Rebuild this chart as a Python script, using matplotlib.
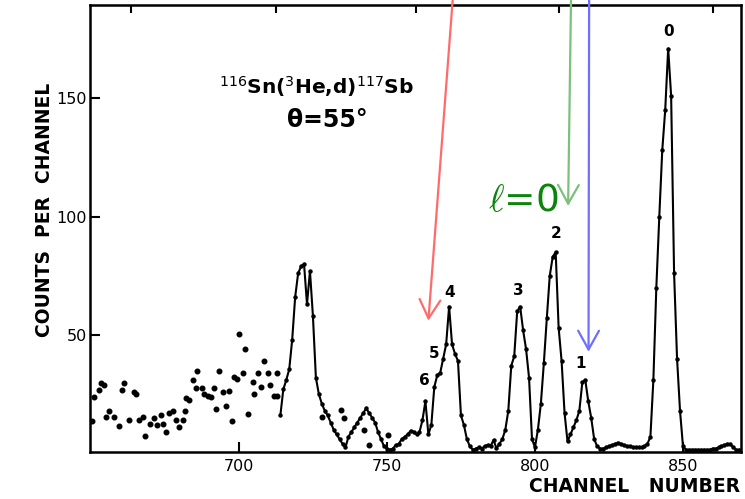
import numpy as np
import matplotlib.pyplot as plt

BOLD = ['DejaVu Sans']

# scattered background counts (no fit line)
bg_channel = [650.5, 651.1, 652.8, 653.4, 654.5, 655.0, 656.2, 657.9, 659.6, 660.5,
              661.3, 662.9, 664.6, 665.1, 666.3, 667.5, 668.3, 669.9, 671.4, 672.2,
              673.6, 674.2, 675.3, 676.5, 677.8, 678.7, 679.8, 681.0, 681.8, 682.1,
              683.2, 684.4, 685.5, 686.0, 687.7, 688.3, 689.4, 690.5, 691.6, 692.2,
              693.3, 694.5, 695.6, 696.7, 697.5, 698.4, 699.2, 700.1, 701.4, 702.2,
              703.1, 704.6, 705.2, 706.5, 707.4, 708.6, 709.7, 710.6, 711.9, 712.8,
              712.8, 728.2, 734.5, 735.6, 742.1, 744.0, 750.2]
bg_counts = [13.5, 23.9, 26.7, 29.6, 28.9, 15.2, 18.0, 15.5, 11.7, 26.7,
             29.8, 14.1, 26.0, 25.0, 14.1, 15.5, 7.3, 12.4, 14.8, 12.0,
             16.2, 12.4, 9.1, 17.2, 18.0, 14.1, 11.2, 14.1, 18.0, 23.2,
             22.5, 31.0, 27.5, 34.9, 27.5, 25.0, 24.2, 23.9, 27.5, 18.6,
             34.9, 26.0, 20.0, 26.4, 13.8, 32.4, 31.3, 50.4, 33.8, 44.2,
             16.5, 30.0, 25.0, 33.8, 28.1, 39.0, 33.8, 28.9, 24.2, 33.8,
             24.0, 15.5, 18.3, 14.8, 9.8, 3.5, 7.7]

# spectrum joined by line
ch = list(range(714, 870))
counts = [16, 27, 31, 35.5, 48, 66, 76, 79, 80, 63,        # 714-723
          77, 58, 32, 25, 21, 18, 16, 13, 10, 8,           # 724-733
          6, 4, 2.5, 7, 9, 11, 13, 15, 17, 19,             # 734-743
          17, 15, 13, 9, 6, 3, 2, 1.5, 2, 3.5,             # 744-753
          4, 6, 7, 8, 9.5, 9, 8, 9, 14, 22,                # 754-763
          8, 12, 28, 33, 34, 40, 46, 62, 46, 42,           # 764-773
          39, 16, 12, 6, 3, 1.5, 2, 2.5, 2, 3,             # 774-783
          3.5, 3, 5.6, 2.1, 4, 6, 10, 18, 37, 41,          # 784-793
          60, 62, 52, 44, 32, 6, 2.5, 10, 21, 38,          # 794-803
          57, 75, 83, 85, 53, 39, 17, 5, 8, 11,            # 804-813
          14, 18, 30, 31, 22, 15, 6, 3, 2, 2,              # 814-823
          2.5, 3, 3.5, 4, 4.5, 4, 3.5, 3, 3, 2.5,          # 824-833
          2.5, 2.5, 2.5, 3, 4, 7, 31, 70, 100, 128,        # 834-843
          145, 171, 151, 76, 40, 18, 3, 1.5, 1.5, 1.5,     # 844-853
          1.5, 1.5, 1.5, 1.5, 1.5, 1.5, 2, 2, 2.5, 3,      # 854-863
          3.5, 4, 3.9, 2.5, 1.5, 1.5]                      # 864-869

peak_names = ['0', '1', '2', '3', '4', '5', '6']
peak_channel = [845, 815.5, 807.1, 794.3, 771.3, 765.9, 762.5]
peak_label_y = [178, 38, 93, 68.6, 68, 42, 30.6]

top_ticks = [663.5, 712.5, 759.8, 808.2, 860.0]

fig = plt.figure(figsize=(7.45, 4.99), dpi=100)
ax = fig.add_axes([90 / 745, 47 / 499, 651 / 745, 447 / 499])

ax.plot(bg_channel, bg_counts, 'o', color='black', ms=3.3, ls='none')
ax.plot(ch, counts, '-', color='black', lw=1.5, marker='o', ms=2.2)

ax.set_xlim(649.7, 869.6)
ax.set_ylim(0.55, 189.4)
ax.set_xticks([700, 750, 800, 850])
ax.set_yticks([50, 100, 150])
ax.tick_params(direction='in', length=7, width=1.5, labelsize=11.5, pad=5)
ax.tick_params(axis='y', pad=2)
for s in ax.spines.values():
    s.set_linewidth(1.8)

top = ax.secondary_xaxis('top')
top.set_xticks(top_ticks)
top.tick_params(direction='in', length=6, width=1.5, labeltop=False)

for name, x, y in zip(peak_names, peak_channel, peak_label_y):
    ax.text(x, y, name, ha='center', va='center', fontsize=11,
            family=BOLD, fontweight='bold')

ax.text(0.347, 0.818, r'$^{116}$Sn($^{3}$He,d)$^{117}$Sb', transform=ax.transAxes,
        ha='center', va='center', fontsize=14.5, family=BOLD, fontweight='bold',
        math_fontfamily='dejavusans')
ax.text(0.365, 0.743, 'θ=55°', transform=ax.transAxes, ha='center', va='center',
        fontsize=17, family=BOLD, fontweight='bold')

fig.text(45 / 745, 1 - 210 / 499, 'COUNTS  PER  CHANNEL', rotation=90,
         ha='center', va='center', fontsize=13.5, family=BOLD, fontweight='bold')
fig.text(740 / 745, 1 - 486 / 499, 'CHANNEL   NUMBER', ha='right', va='center',
         fontsize=13.5, family=BOLD, fontweight='bold')

arrows = [(764.0, 56.0, 772.3, 193, '#ff6b6b'),
          (811.2, 104.5, 812.2, 193, '#7cc07c'),
          (818.1, 42.9, 818.3, 193, '#6f6fff')]
for x0, y0, x1, y1, c in arrows:
    ax.annotate('', xy=(x0, y0), xytext=(x1, y1), annotation_clip=False,
                arrowprops=dict(arrowstyle='->,head_length=0.9,head_width=0.5',
                                color=c, lw=1.6, mutation_scale=15,
                                shrinkA=0, shrinkB=0))

ax.text(807.8, 106.5, r'$\ell$=0', ha='right', va='center', fontsize=27,
        color='#0a840a', family='DejaVu Sans', math_fontfamily='cm')

fig.savefig('out.png', dpi=100)
